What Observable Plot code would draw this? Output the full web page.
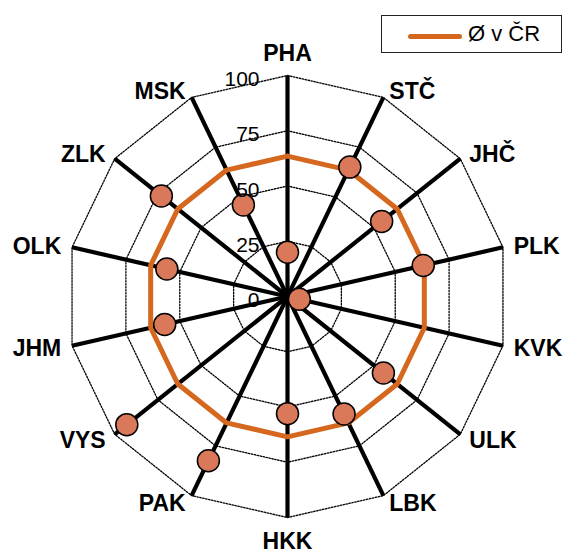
<!DOCTYPE html>
<html>
<head>
<meta charset="utf-8">
<script src="https://cdn.jsdelivr.net/npm/d3@7"></script>
<script src="https://cdn.jsdelivr.net/npm/@observablehq/plot@0.6"></script>
<style>
  html, body { margin: 0; padding: 0; background: #fff; }
  #wrap { position: relative; width: 563px; height: 551px; font-family: "Liberation Sans", Arial, sans-serif; }
  #legend { position: absolute; left: 381px; top: 15px; width: 179px; height: 36px; border: 1.5px solid #222; background: #fff; }
  #legend .sw { position: absolute; left: 26px; top: 18px; width: 54px; height: 5px; border-radius: 3px; background: #D5671F; }
  #legend .lb { position: absolute; left: 86px; top: 6px; font-size: 22px; line-height: 24px; color: #000; }
</style>
</head>
<body>
<div id="wrap"><div id="legend"><div class="sw"></div><div class="lb">Ø v ČR</div></div></div>
<script>
const regions = ["PHA","STČ","JHČ","PLK","KVK","ULK","LBK","HKK","PAK","VYS","JHM","OLK","ZLK","MSK"];
const values  = [20, 65, 54.5, 63, 5.5, 55.5, 59, 53, 82.5, 93, 57, 56, 73, 46];
const average = [63.5, 63.5, 63.5, 63.5, 63.5, 63.5, 63.5, 63.5, 63.5, 63.5, 63.5, 63.5, 63.5, 63.5];
const tickValues = [0, 25, 50, 75, 100];
const tickLabels = ["0", "25", "50", "75", "100"];
const gridLevels = [25, 50, 75, 100];
const maxValue = 100;

const W = 563, H = 551;
const cx = 287, cy = 296, k = 2.21; // px per unit
const n = regions.length;
const ang = i => i * 2 * Math.PI / n;
const px = (r, i) => r * Math.sin(ang(i));
const py = (r, i) => r * Math.cos(ang(i));

const grid = [];
for (const lv of gridLevels) for (let i = 0; i <= n; i++) grid.push({level: lv, x: px(lv, i % n), y: py(lv, i % n)});

const spokes = regions.map((name, i) => ({name, x2: px(maxValue, i), y2: py(maxValue, i)}));
const avgLine = [];
for (let i = 0; i <= n; i++) avgLine.push({x: px(average[i % n], i % n), y: py(average[i % n], i % n)});
const pts = regions.map((name, i) => ({name, x: px(values[i], i), y: py(values[i], i)}));

const labels = regions.map((name, i) => {
  const s = Math.sin(ang(i)), c = Math.cos(ang(i));
  let offX, offY, anchor;
  if (Math.abs(s) < 0.05) { anchor = "middle"; offX = 0; offY = c > 0 ? -22 : 24; }
  else { anchor = s > 0 ? "start" : "end"; offX = Math.sign(s) * (2 + 9 * Math.abs(s)); offY = -8 * c + 1; }
  return {name, anchor, x: px(maxValue, i) + offX / k, y: py(maxValue, i) - offY / k};
});
const ticks = tickValues.map((v, i) => ({v, label: tickLabels[i]}));

const font = "Liberation Sans, Arial, sans-serif";
const chart = Plot.plot({
  width: W, height: H, margin: 0,
  x: {domain: [-cx / k, (W - cx) / k], axis: null},
  y: {domain: [-(H - cy) / k, cy / k], axis: null},
  style: {fontFamily: font, background: "white"},
  marks: [
    Plot.line(grid, {x: "x", y: "y", z: "level", stroke: "#000", strokeWidth: 1.3, strokeDasharray: "1.5,1.5"}),
    Plot.link(spokes, {x1: () => 0, y1: () => 0, x2: "x2", y2: "y2", stroke: "#000", strokeWidth: 4.2}),
    Plot.line(avgLine, {x: "x", y: "y", stroke: "#D5671F", strokeWidth: 5, strokeLinejoin: "miter"}),
    Plot.dot(pts, {x: "x", y: "y", r: 11, fill: "#D9795A", stroke: "#000", strokeWidth: 1.5}),
    Plot.text(ticks, {x: () => 0, y: "v", text: "label", dx: -28, dy: 4, textAnchor: "end", fontSize: 21, fill: "#000"}),
    ...["start", "end", "middle"].map(a => Plot.text(labels.filter(d => d.anchor === a), {x: "x", y: "y", text: "name", textAnchor: a, fontSize: 23, fontWeight: "bold", fill: "#000"}))
  ]
});
document.getElementById("wrap").prepend(chart);
chart.style.position = "absolute"; chart.style.left = "0"; chart.style.top = "0";
</script>
</body>
</html>
